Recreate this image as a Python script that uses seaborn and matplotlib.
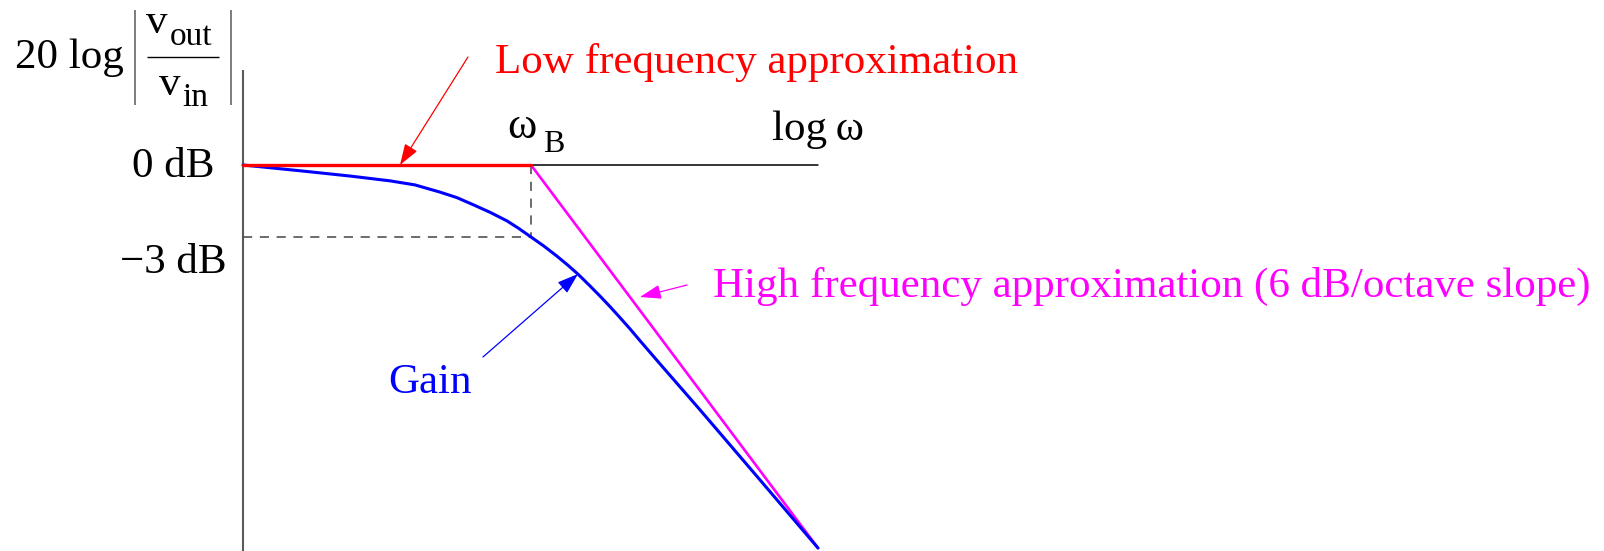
import matplotlib
matplotlib.use("Agg")
import matplotlib.pyplot as plt
from matplotlib.lines import Line2D
import seaborn as sns
import pandas as pd

# Frequency in octaves relative to the break frequency, gain in dB
gain_octaves = [-2.669, -2.141, -1.677, -1.307, -1.075, -0.843, -0.686, -0.538,
                -0.380, -0.222, -0.111, 0.0, 0.120, 0.241, 0.343, 0.436, 0.547,
                0.639, 0.732, 0.825, 0.918, 1.010, 1.196, 1.566, 2.122, 2.66]
gain_db = [0.0, -0.24, -0.46, -0.66, -0.83, -1.13, -1.36, -1.65, -1.97, -2.33,
           -2.65, -3.0, -3.38, -3.80, -4.18, -4.55, -5.04, -5.46, -5.90, -6.36,
           -6.83, -7.32, -8.29, -10.20, -13.12, -15.96]

low_octaves = [-2.669, 0.0]
low_db = [0.0, 0.0]

high_octaves = [0.0, 2.66]
high_db = [0.0, -15.96]

axis_top_db = 3.96
axis_bottom_db = -16.1
corner_db = -3.0

sns.set_style("white")
plt.rcParams["font.family"] = ["Liberation Serif", "DejaVu Serif"]

W, H = 1604, 551
fig = plt.figure(figsize=(W / 100, H / 100), dpi=100)
ax = fig.add_axes([0, 0, 1, 1])

gain = pd.DataFrame({"octave": gain_octaves, "db": gain_db})
low = pd.DataFrame({"octave": low_octaves, "db": low_db})
high = pd.DataFrame({"octave": high_octaves, "db": high_db})

# axes of the sketch
ax.plot([low_octaves[0], low_octaves[0]], [axis_top_db, axis_bottom_db],
        color="#5a5a5a", lw=1.5, solid_capstyle="butt")
ax.plot([low_octaves[0], high_octaves[-1]], [0, 0], color="black", lw=1.1)

# -3 dB guide lines
ax.plot([low_octaves[0], 0], [corner_db, corner_db], color="#444444", lw=1.1,
        linestyle=(0, (6, 5)))
ax.plot([0, 0], [0, corner_db], color="#444444", lw=1.1, linestyle=(0, (6, 5)))

sns.lineplot(data=high, x="octave", y="db", color="#ff00ff", lw=1.9, sort=False, ax=ax)
sns.lineplot(data=gain, x="octave", y="db", color="#0000ff", lw=2.2, sort=False, ax=ax)
sns.lineplot(data=low, x="octave", y="db", color="#ff0000", lw=2.4, sort=False, ax=ax)
ax.set_xlim(-4.921, 9.944)
ax.set_ylim(-16.083, 6.875)
ax.axis("off")

ax.text(-0.334, 3.83, "Low frequency approximation", color="#ff0000",
        fontsize=31, ha="left", va="baseline")
ax.text(1.687, -5.5, "High frequency approximation (6 dB/octave slope)",
        color="#ff00ff", fontsize=31, ha="left", va="baseline")
ax.text(-1.325, -9.5, "Gain", color="#0000ff", fontsize=31, ha="left", va="baseline")
ax.text(-2.929, -0.5, "0 dB", color="black", fontsize=31, ha="right", va="baseline")
ax.text(-2.817, -4.5, "\u22123 dB", color="black", fontsize=31, ha="right", va="baseline")
ax.text(2.234, 1.04, "log\u2009ω", color="black", fontsize=31, ha="left", va="baseline")
ax.text(-0.222, 1.125, "ω", color="black", fontsize=32, ha="left", va="baseline")
ax.text(0.111, 0.54, "B", color="black", fontsize=23, ha="left", va="baseline")


# y-axis label: 20 log |v_out / v_in|, placed in figure pixels
def fig_xy(x, y):
    return x / W, 1 - y / H


def label_text(x, y, s, size):
    fx, fy = fig_xy(x, y)
    fig.text(fx, fy, s, fontsize=size, color="black", ha="left", va="baseline")


def label_line(x0, y0, x1, y1, color, lw):
    (a, b), (c, d) = fig_xy(x0, y0), fig_xy(x1, y1)
    fig.add_artist(Line2D([a, c], [b, d], color=color, lw=lw,
                          transform=fig.transFigure, solid_capstyle="butt"))


label_text(15, 68, "20 log", 31)
label_text(146, 33, "v", 31)
label_text(170, 45, "out", 24)
label_text(159, 95, "v", 31)
label_text(182, 106, "in", 24)
label_line(147, 57, 219, 57, "black", 1.0)
label_line(135, 10, 135, 105, "#5a5a5a", 1.1)
label_line(231, 10, 231, 105, "#5a5a5a", 1.1)

arrow_style = "-|>,head_length=0.65,head_width=0.22"
ax.annotate("", xy=(-1.214, 0.0), xytext=(-0.584, 4.5),
            arrowprops=dict(arrowstyle=arrow_style, color="#ff0000", lw=0.9,
                            mutation_scale=20, shrinkA=0, shrinkB=0))
ax.annotate("", xy=(0.436, -4.54), xytext=(-0.445, -8.0),
            arrowprops=dict(arrowstyle=arrow_style, color="#0000ff", lw=0.9,
                            mutation_scale=20, shrinkA=0, shrinkB=0))
ax.annotate("", xy=(1.01, -5.5), xytext=(1.446, -5.0),
            arrowprops=dict(arrowstyle=arrow_style, color="#ff00ff", lw=0.9,
                            mutation_scale=20, shrinkA=0, shrinkB=0))

fig.savefig("out.png", dpi=100)
